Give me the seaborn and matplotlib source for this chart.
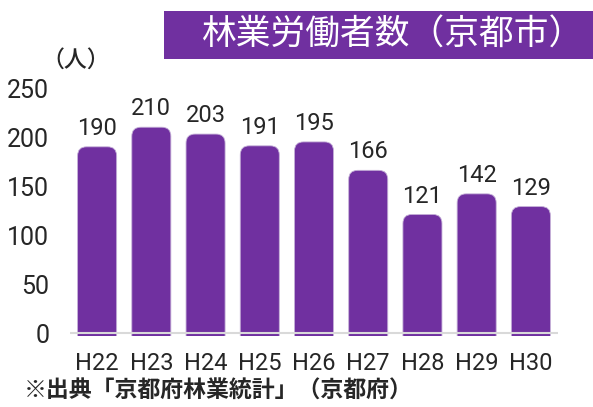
import pandas as pd
import seaborn as sns
import matplotlib.pyplot as plt
from matplotlib import font_manager
from matplotlib.patches import FancyBboxPatch, Rectangle

# data
years = ["H22", "H23", "H24", "H25", "H26", "H27", "H28", "H29", "H30"]
workers = [190, 210, 203, 191, 195, 166, 121, 142, 129]

title = "林業労働者数（京都市）"
unit_label = "（人）"
source_note = "※出典「京都府林業統計」（京都府）"

PURPLE = "#7030A0"
JP_FONT = ["Noto Sans CJK JP", "DejaVu Sans"]


def pick_number_font():
    names = {f.name for f in font_manager.fontManager.ttflist}
    for name in ["Liberation Sans Narrow", "Roboto", "DejaVu Sans"]:
        if name in names:
            return name
    return "DejaVu Sans"


def round_tops(ax, radius_px=9):
    """swap the square bars for ones with rounded top corners"""
    fig = ax.figure
    fig.canvas.draw()
    bbox = ax.get_window_extent()
    x0, x1 = ax.get_xlim()
    y0, y1 = ax.get_ylim()
    px_x = bbox.width / (x1 - x0)
    px_y = bbox.height / (y1 - y0)
    r = radius_px / px_x
    for p in ax.patches[:]:
        x, w, h = p.get_x(), p.get_width(), p.get_height()
        p.set_visible(False)
        box = FancyBboxPatch((x, -20), w, h + 20,
                             boxstyle=f"round,pad=0,rounding_size={r}",
                             mutation_aspect=px_x / px_y,
                             facecolor=PURPLE, edgecolor="#c5b0d8",
                             linewidth=0.6, zorder=2)
        ax.add_patch(box)


def create_plot(df):
    sns.set_style("white")
    num_font = pick_number_font()
    plt.rcParams["font.family"] = [num_font, "Noto Sans CJK JP"]

    fig = plt.figure(figsize=(5.93, 4.07), dpi=100)
    ax = fig.add_axes([70 / 593, (407 - 335.5) / 407, 488 / 593, (335.5 - 88) / 407])

    sns.barplot(data=df, x="year", y="workers", color=PURPLE, width=0.72,
                saturation=1, ax=ax)
    ax.set_ylim(-2.5, 250)
    ax.set_xlim(-0.5, len(years) - 0.5)
    ax.set_yticks(range(0, 251, 50))
    ax.set_xlabel("")
    ax.set_ylabel("")
    sns.despine(ax=ax, left=True, bottom=True, top=True, right=True)
    ax.tick_params(axis="y", length=0, pad=15, labelsize=18)
    ax.tick_params(axis="x", length=0, pad=12, labelsize=17)

    ax.bar_label(ax.containers[0], padding=5, fontsize=17, clip_on=False)
    ax.axhline(0, color="#d9d9d9", linewidth=1.5, zorder=3)
    round_tops(ax)

    # title box
    fig.patches.append(Rectangle((164 / 593, (407 - 59) / 407), 1 - 164 / 593, 48 / 407,
                                 transform=fig.transFigure, facecolor=PURPLE,
                                 edgecolor="none"))
    fig.text(202 / 593, (407 - 35) / 407, title, color="white", fontsize=25,
             family=JP_FONT, ha="left", va="center")
    fig.text(76 / 593, (407 - 60) / 407, unit_label, fontsize=16.5,
             family=JP_FONT, fontweight="medium", ha="center", va="center")
    fig.text(24 / 593, (407 - 391) / 407, source_note, fontsize=16.5,
             family=JP_FONT, fontweight="bold", ha="left", va="center")

    fig.savefig("out.png", dpi=100)
    plt.close(fig)


def main():
    df = pd.DataFrame({"year": years, "workers": workers})
    create_plot(df)


if __name__ == "__main__":
    main()
